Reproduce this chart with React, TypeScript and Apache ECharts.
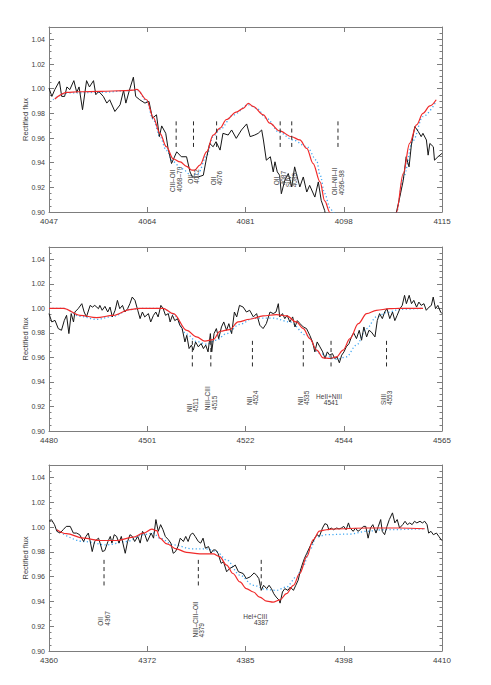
import React, { useEffect, useRef } from "react";
import * as echarts from "echarts";

// ---------- Panel 1 (4047-4115 Å) ----------
const P1_TICKS = ["4047", "4064", "4081", "4098", "4115"];
const P1_OBS_W = [4047.0,4047.5,4048.0,4048.8,4049.2,4049.7,4050.1,4050.6,4051.3,4051.8,4052.2,4052.8,4053.5,4054.0,4054.7,4055.1,4055.6,4056.4,4057.0,4057.5,4058.4,4059.3,4059.9,4060.3,4060.9,4061.6,4062.0,4062.7,4063.6,4064.3,4064.9,4065.6,4066.1,4066.5,4067.2,4067.6,4068.2,4069.1,4069.9,4070.8,4071.4,4071.8,4072.8,4073.7,4074.3,4074.8,4075.4,4075.9,4076.6,4077.1,4078.0,4078.6,4079.4,4080.3,4081.2,4081.8,4082.6,4083.2,4083.8,4084.1,4084.6,4085.3,4085.8,4086.1,4086.5,4086.9,4087.2,4087.8,4088.4,4089.0,4089.5,4089.8,4090.4,4091.0,4091.6,4092.1,4093.0,4093.6,4094.1,4094.7,4095.3,4097.0,4100.0,4103.0,4105.5,4106.5,4107.1,4107.7,4108.3,4108.8,4109.3,4109.7,4110.3,4110.9,4111.4,4111.7,4112.3,4112.6,4112.9,4113.5,4113.7,4114.3,4115.0];
const P1_OBS_F = [1.0005,0.9937,0.9992,1.0060,0.9937,0.9937,1.0014,0.9992,1.0065,0.9970,1.0014,0.9829,1.0065,1.0014,1.0065,0.9951,0.9978,0.9937,0.9883,0.9910,0.9815,0.9869,0.9986,0.9883,0.9986,1.0093,0.9937,0.9910,0.9883,0.9897,0.9761,0.9788,0.9611,0.9698,0.9638,0.9516,0.9393,0.9488,0.9448,0.9448,0.9325,0.9284,0.9284,0.9298,0.9448,0.9556,0.9529,0.9570,0.9502,0.9638,0.9624,0.9665,0.9597,0.9665,0.9714,0.9611,0.9624,0.9638,0.9665,0.9584,0.9420,0.9448,0.9325,0.9407,0.9325,0.9298,0.9148,0.9257,0.9312,0.9203,0.9366,0.9312,0.9203,0.9284,0.9162,0.9216,0.9121,0.9244,0.9094,0.9012,0.885,0.85,0.78,0.76,0.84,0.88,0.8996,0.9121,0.9257,0.9448,0.9366,0.9543,0.9693,0.9652,0.9611,0.9638,0.9584,0.9461,0.9556,0.9529,0.9420,0.9448,0.9475];
const P1_RED_W = [4048.0,4050.1,4052.0,4056.0,4060.0,4061.6,4062.2,4063.9,4065.0,4066.2,4067.3,4068.5,4069.7,4070.8,4071.7,4072.2,4073.1,4074.3,4075.4,4076.6,4077.7,4079.4,4080.6,4081.5,4082.3,4084.1,4085.2,4086.9,4089.0,4090.4,4091.6,4092.7,4093.9,4094.7,4095.6,4097.0,4099.0,4101.7,4104.0,4106.0,4107.1,4108.3,4109.4,4110.6,4111.7,4112.9,4114.0];
const P1_RED_F = [0.9916,0.997,0.9975,0.9978,0.9984,0.9988,0.9995,0.991,0.977,0.9638,0.953,0.943,0.9407,0.937,0.934,0.934,0.938,0.949,0.9624,0.968,0.975,0.981,0.984,0.988,0.9856,0.9788,0.972,0.9657,0.961,0.9584,0.9516,0.9393,0.9244,0.909,0.8996,0.86,0.80,0.76,0.80,0.865,0.8996,0.9312,0.9556,0.9706,0.980,0.986,0.991];
const P1_BLU_W = [4047.7,4050.1,4055.8,4061.6,4062.4,4063.9,4065.0,4066.2,4067.3,4068.5,4069.9,4071.7,4072.8,4074.3,4075.4,4076.6,4078.9,4081.5,4082.9,4084.6,4086.9,4089.2,4091.6,4093.3,4093.9,4094.7,4095.6,4096.2,4098.0,4101.7,4105.0,4107.1,4108.3,4110.0,4111.7,4114.0];
const P1_BLU_F = [0.991,0.9965,0.997,0.9986,0.9984,0.9897,0.9752,0.9611,0.950,0.9407,0.9352,0.9298,0.9312,0.9461,0.9611,0.967,0.9788,0.9869,0.9842,0.976,0.9644,0.9584,0.953,0.942,0.930,0.915,0.9035,0.8996,0.85,0.76,0.83,0.8996,0.928,0.958,0.9774,0.9897];
const P1_MARK_W = [4069, 4072, 4076, 4087, 4089, 4097];
const P1_MARK_L = ["CIII–OII\n4068–70", "OII\n4072", "OII\n4076", "OII\n4087", "SiIV\n4089", "OII–NII–II\n4096–98"];
const P1_MARK_Y = [0.9162, 0.923, 0.9216, 0.9216, 0.920, 0.9135];
const P1_MARK_H = [false, false, false, false, false, false];

// ---------- Panel 2 (4480-4565 Å) ----------
const P2_TICKS = ["4480", "4501", "4522", "4544", "4565"];
const P2_OBS_W = [4480.0,4480.6,4481.3,4482.0,4482.7,4483.3,4483.8,4484.3,4484.8,4485.3,4485.6,4486.3,4487.1,4487.6,4488.1,4488.9,4489.4,4489.9,4490.7,4491.0,4491.5,4492.1,4492.7,4493.2,4493.7,4494.3,4494.8,4495.3,4495.9,4496.4,4497.0,4497.5,4498.0,4498.6,4499.2,4499.7,4500.2,4500.7,4501.5,4502.0,4502.6,4503.1,4503.6,4504.2,4504.7,4505.2,4505.8,4506.2,4506.7,4507.2,4507.8,4508.3,4508.8,4509.4,4509.8,4510.3,4510.8,4511.2,4511.7,4512.3,4512.9,4513.4,4513.9,4514.4,4514.9,4515.2,4515.7,4516.2,4516.7,4517.3,4517.8,4518.4,4518.9,4519.5,4520.1,4520.6,4521.2,4522.0,4522.7,4523.4,4524.2,4524.9,4525.6,4526.3,4527.0,4527.8,4528.5,4529.1,4529.6,4529.9,4530.5,4531.0,4531.5,4532.1,4532.7,4533.2,4533.7,4534.3,4535.0,4535.7,4536.4,4537.0,4537.5,4538.0,4538.6,4539.2,4539.7,4540.2,4540.7,4541.3,4541.8,4542.3,4542.8,4543.3,4543.8,4544.3,4544.9,4545.4,4545.9,4546.5,4547.1,4547.6,4548.1,4548.7,4549.2,4549.7,4550.5,4551.0,4551.5,4552.1,4552.6,4553.1,4553.7,4554.3,4554.8,4555.3,4555.9,4556.4,4556.9,4557.3,4557.9,4558.4,4558.9,4559.5,4560.0,4560.5,4561.1,4561.6,4562.2,4562.7,4563.1,4563.6,4564.1,4564.7,4565.0];
const P2_OBS_F = [0.9957,0.9889,0.9902,0.9835,0.9821,0.9900,0.9943,0.9794,0.9957,0.9889,0.9970,0.9997,1.0038,0.9970,0.9930,1.0024,1.0010,1.0024,0.9997,1.0024,0.9984,1.0016,0.9970,1.0010,0.9930,0.9984,1.0065,0.9997,1.0024,0.9970,0.9997,1.0038,1.0092,1.0065,0.9984,0.9916,0.9970,0.9930,0.9957,0.9889,0.9943,0.9970,0.9930,1.0024,0.9997,0.9943,0.9957,0.9889,0.9943,0.9900,0.9916,0.9862,0.9835,0.9726,0.9780,0.9672,0.9700,0.9659,0.9726,0.9686,0.9713,0.9672,0.9700,0.9645,0.9794,0.9645,0.9794,0.9835,0.9753,0.9848,0.9889,0.9821,0.9875,0.9794,0.9970,0.9930,1.0024,1.0010,0.9970,0.9984,0.9930,0.9957,0.9862,0.9835,0.9875,0.9970,0.9957,0.9970,1.0038,0.9930,0.9957,0.9916,0.9943,0.9889,0.9930,0.9848,0.9900,0.9875,0.9848,0.9835,0.9780,0.9726,0.9645,0.9726,0.9686,0.9645,0.9591,0.9645,0.9618,0.9631,0.9591,0.9604,0.9556,0.9618,0.9645,0.9686,0.9713,0.9767,0.9800,0.9753,0.9821,0.9740,0.9848,0.9767,0.9821,0.9808,0.9767,0.9900,0.9957,0.9916,0.9970,0.9997,0.9916,0.9970,0.9900,0.9943,0.9997,1.0024,1.0106,1.0038,1.0106,1.0038,1.0065,1.0010,1.0051,1.0024,1.0038,0.9984,1.0010,1.0024,1.0092,0.9997,1.0024,0.9970,0.9957];
const P2_RED_W = [4480.0,4483.1,4486.7,4490.3,4493.9,4497.5,4499.7,4504.7,4506.9,4509.8,4511.9,4513.7,4515.5,4517.0,4519.1,4520.9,4523.4,4526.3,4529.2,4531.4,4533.5,4535.0,4536.4,4537.9,4539.3,4540.7,4542.2,4543.6,4545.1,4546.9,4548.7,4550.8,4553.7,4555.9,4560.9];
const P2_RED_F = [1.0,1.0,0.9943,0.9924,0.9943,0.999,1.0,1.0,0.9957,0.982,0.9767,0.9732,0.9745,0.9813,0.9827,0.9889,0.9911,0.9938,0.9949,0.9938,0.9889,0.9835,0.9753,0.9659,0.9596,0.9591,0.9604,0.9659,0.9753,0.9875,0.9957,0.9984,0.9997,1.0,1.0];
const P2_BLU_W = [4480.0,4483.1,4486.7,4490.3,4493.9,4497.5,4499.7,4504.7,4506.9,4509.8,4511.9,4514.1,4516.2,4518.4,4521.3,4524.2,4528.5,4532.1,4535.7,4538.6,4542.2,4544.3,4546.5,4548.7,4550.8,4553.0,4555.9,4560.9];
const P2_BLU_F = [1.0,1.0,0.9935,0.991,0.9935,0.999,1.0,1.0,0.995,0.979,0.973,0.9707,0.974,0.9794,0.987,0.992,0.992,0.9889,0.978,0.9631,0.9585,0.9604,0.97,0.9835,0.993,0.9965,0.9992,1.0];
const P2_MARK_W = [4511, 4515, 4524, 4535, 4541, 4553];
const P2_MARK_L = ["NII\n4511", "NIII–CIII\n4515", "NII\n4524", "NII\n4535", "HeII+NIII\n4541", "SiIII\n4553"];
const P2_MARK_Y = [0.9154, 0.917, 0.9211, 0.9211, 0.9255, 0.9211];
const P2_MARK_H = [false, false, false, false, true, false];

// ---------- Panel 3 (4360-4410 Å) ----------
const P3_TICKS = ["4360", "4372", "4385", "4398", "4410"];
const P3_OBS_W = [4360.0,4360.3,4360.7,4361.0,4361.4,4361.8,4362.2,4362.7,4363.1,4363.5,4363.9,4364.4,4364.7,4365.0,4365.2,4365.5,4365.8,4366.3,4366.5,4366.8,4367.1,4367.5,4367.8,4368.0,4368.3,4368.6,4368.9,4369.2,4369.7,4370.0,4370.3,4370.6,4370.9,4371.3,4371.6,4371.9,4372.2,4372.5,4373.0,4373.3,4373.6,4373.9,4374.2,4374.5,4374.8,4375.2,4375.5,4375.8,4376.1,4376.4,4376.7,4377.1,4377.4,4377.7,4378.0,4378.3,4378.6,4379.0,4379.3,4379.6,4379.9,4380.3,4380.6,4380.9,4381.2,4381.5,4381.9,4382.2,4382.6,4383.0,4383.4,4383.7,4384.1,4384.7,4385.1,4385.6,4386.1,4386.4,4386.7,4387.0,4387.3,4387.7,4388.0,4388.3,4388.6,4388.9,4389.3,4389.4,4389.7,4390.0,4390.4,4390.7,4391.1,4391.4,4391.7,4392.0,4392.2,4392.5,4392.8,4393.0,4393.3,4393.5,4393.8,4394.1,4394.4,4394.8,4395.1,4395.4,4395.6,4395.9,4396.2,4396.6,4396.9,4397.2,4397.5,4397.8,4398.1,4398.3,4398.7,4399.0,4399.3,4399.6,4400.0,4400.3,4400.6,4400.9,4401.2,4401.6,4401.9,4402.2,4402.4,4402.7,4403.0,4403.3,4403.7,4404.0,4404.3,4404.6,4405.0,4405.3,4405.6,4405.9,4406.2,4406.5,4406.8,4407.2,4407.5,4407.8,4408.1,4408.3,4408.6,4408.9,4409.3,4409.6,4409.9,4410.0];
const P3_OBS_F = [1.0046,1.0060,1.0019,0.9965,0.9951,0.9978,1.0005,1.0005,0.9951,0.9951,0.9938,0.9883,0.9924,0.9951,0.9897,0.9802,0.9883,0.9910,0.9870,0.9802,0.9810,0.9883,0.9924,0.9870,0.9938,0.9924,0.9870,0.9924,0.9788,0.9883,0.9938,0.9924,0.9883,0.9924,0.9870,0.9965,0.9938,0.9883,0.9951,0.9910,1.0060,0.9965,1.0019,0.9978,0.9924,0.9897,0.9870,0.9788,0.9802,0.9842,0.9910,0.9883,0.9924,0.9883,0.9938,0.9951,0.9924,0.9883,0.9870,0.9910,0.9829,0.9842,0.9788,0.9815,0.9815,0.9788,0.9707,0.9720,0.9639,0.9666,0.9679,0.9693,0.9639,0.9625,0.9584,0.9598,0.9630,0.9611,0.9584,0.9489,0.9530,0.9503,0.9530,0.9503,0.9462,0.9435,0.9408,0.9386,0.9476,0.9503,0.9489,0.9516,0.9489,0.9530,0.9571,0.9652,0.9693,0.9747,0.9788,0.9815,0.9856,0.9870,0.9910,0.9938,0.9924,0.9992,1.0027,1.0019,0.9978,0.9992,0.9978,0.9992,0.9984,0.9992,1.0005,0.9978,1.0033,0.9992,0.9965,0.9992,0.9965,0.9978,1.0005,1.0005,0.9910,0.9992,1.0019,0.9951,1.0005,1.0060,0.9965,0.9938,1.0005,1.0060,1.0114,1.0033,1.0060,0.9992,1.0019,1.0046,1.0019,1.0033,1.0019,1.0046,1.0033,1.0046,1.0033,1.0046,1.0019,0.9951,0.9965,0.9938,0.9951,0.9924,0.9897,0.9890];
const P3_RED_W = [4361.0,4362.2,4364.4,4366.5,4368.6,4370.7,4372.0,4373.1,4373.7,4374.1,4375.0,4376.2,4377.5,4379.2,4380.9,4381.7,4382.6,4383.4,4384.3,4385.1,4386.0,4386.8,4387.7,4388.5,4389.4,4390.2,4391.1,4391.9,4392.8,4393.6,4394.4,4395.3,4396.1,4400.4,4404.6,4407.8];
const P3_RED_F = [0.9978,0.9946,0.991,0.9891,0.9891,0.9918,0.995,0.9983,0.997,0.991,0.9864,0.9823,0.9796,0.9783,0.9783,0.9761,0.9693,0.9625,0.9557,0.9503,0.9476,0.9435,0.9402,0.9394,0.9413,0.9462,0.953,0.9625,0.9761,0.9897,0.9967,0.9978,0.9984,0.9992,0.9992,0.9986];
const P3_BLU_W = [4361.0,4364.4,4367.3,4369.9,4372.0,4373.3,4374.1,4375.8,4378.3,4380.0,4381.3,4382.6,4384.3,4386.0,4387.7,4388.9,4390.2,4391.5,4392.3,4393.2,4394.0,4395.3,4398.3,4400.4,4402.5,4407.8];
const P3_BLU_F = [0.9973,0.9883,0.9856,0.9883,0.9938,0.995,0.991,0.9856,0.9823,0.9823,0.9802,0.9734,0.9611,0.953,0.9495,0.9489,0.9516,0.9598,0.968,0.9815,0.9918,0.9938,0.9943,0.9965,0.9978,0.9985];
const P3_MARK_W = [4367, 4379, 4387];
const P3_MARK_L = ["OII\n4367", "NIII–CIII–OII\n4379", "HeI+CIII\n4387"];
const P3_MARK_Y = [0.9204, 0.9109, 0.9255];
const P3_MARK_H = [false, false, true];

// ---------- shared axis values ----------
const Y_TICKS = ["0.90", "0.92", "0.94", "0.96", "0.98", "1.00", "1.02", "1.04"];
const Y_MIN = 0.9;
const Y_MAX = 1.05;
const Y_STEP = 0.02;
const DASH_TOP = 0.9735;
const DASH_BOTTOM = 0.952;
const Y_NAME = "Rectified flux";

// ---------- styles / layout ----------
const FONT = "'Liberation Sans', Arial, Helvetica, sans-serif";
const AXIS_COLOR = "#7d7d7d";
const TEXT_COLOR = "#3c3c3c";
const OBS_COLOR = "#161616";
const RED_COLOR = "#f02a2a";
const BLUE_COLOR = "#3ea6f2";
const LAYOUT = [
  { top: 27, height: 185 },
  { top: 247, height: 184 },
  { top: 465, height: 186 },
];

const zip = (a: number[], b: number[]) => a.map((v, i) => [v, b[i]]);

const PANELS = [
  { xMin: 4047, xMax: 4115, ticks: P1_TICKS, obs: zip(P1_OBS_W, P1_OBS_F), red: zip(P1_RED_W, P1_RED_F), blue: zip(P1_BLU_W, P1_BLU_F), markW: P1_MARK_W, markL: P1_MARK_L, markY: P1_MARK_Y, markH: P1_MARK_H, hPad: 4 },
  { xMin: 4480, xMax: 4565, ticks: P2_TICKS, obs: zip(P2_OBS_W, P2_OBS_F), red: zip(P2_RED_W, P2_RED_F), blue: zip(P2_BLU_W, P2_BLU_F), markW: P2_MARK_W, markL: P2_MARK_L, markY: P2_MARK_Y, markH: P2_MARK_H, hPad: 4 },
  { xMin: 4360, xMax: 4410, ticks: P3_TICKS, obs: zip(P3_OBS_W, P3_OBS_F), red: zip(P3_RED_W, P3_RED_F), blue: zip(P3_BLU_W, P3_BLU_F), markW: P3_MARK_W, markL: P3_MARK_L, markY: P3_MARK_Y, markH: P3_MARK_H, hPad: 12 },
];

function buildOption() {
  const grid: any[] = [];
  const xAxis: any[] = [];
  const yAxis: any[] = [];
  const series: any[] = [];
  const line = { show: true, onZero: false, lineStyle: { color: AXIS_COLOR, width: 1 } };
  const tickStyle = { color: AXIS_COLOR, width: 1 };

  PANELS.forEach((p, i) => {
    grid.push({ left: 49, right: 49, top: LAYOUT[i].top, height: LAYOUT[i].height, containLabel: false });
    const interval = (p.xMax - p.xMin) / 4;
    const xBase = {
      type: "value", gridIndex: i, min: p.xMin, max: p.xMax, interval,
      axisLine: line, splitLine: { show: false },
      axisTick: { show: true, inside: true, length: 5, lineStyle: tickStyle },
    };
    xAxis.push({
      ...xBase, position: "bottom",
      axisLabel: {
        show: true, margin: 5, fontSize: 8, color: TEXT_COLOR, fontFamily: FONT,
        formatter: (v: number) => p.ticks[Math.round((v - p.xMin) / interval)] ?? "",
      },
    });
    xAxis.push({ ...xBase, position: "top", axisLabel: { show: false } });
    const yBase = {
      type: "value", gridIndex: i, min: Y_MIN, max: Y_MAX, interval: Y_STEP,
      axisLine: line, splitLine: { show: false }, minorSplitLine: { show: false },
      axisTick: { show: true, inside: true, length: 5, lineStyle: tickStyle },
      minorTick: { show: true, splitNumber: 4, length: 2.5, lineStyle: tickStyle },
    };
    yAxis.push({
      ...yBase, position: "left",
      name: Y_NAME, nameLocation: "middle", nameRotate: 90, nameGap: 20, nameMoveOverlap: false,
      nameTextStyle: { fontSize: 7.5, color: TEXT_COLOR, fontFamily: FONT },
      axisLabel: {
        show: true, margin: 4, fontSize: 7, color: TEXT_COLOR, fontFamily: FONT, showMaxLabel: false,
        formatter: (v: number) => Y_TICKS[Math.round((v - Y_MIN) / Y_STEP)] ?? "",
      },
    });
    yAxis.push({ ...yBase, position: "right", axisLabel: { show: false } });

    const xi = 2 * i;
    const yi = 2 * i;
    series.push({
      type: "line", xAxisIndex: xi, yAxisIndex: yi, data: p.blue, showSymbol: false, symbol: "none",
      smooth: 0.35, smoothMonotone: "x", clip: true, z: 2,
      lineStyle: { color: BLUE_COLOR, width: 1.3, type: [1.2, 2.4] },
    });
    series.push({
      type: "line", xAxisIndex: xi, yAxisIndex: yi, data: p.obs, showSymbol: false, symbol: "none",
      clip: true, z: 3, lineStyle: { color: OBS_COLOR, width: 1 },
    });
    series.push({
      type: "line", xAxisIndex: xi, yAxisIndex: yi, data: p.red, showSymbol: false, symbol: "none",
      smooth: 0.35, smoothMonotone: "x", clip: true, z: 4,
      lineStyle: { color: RED_COLOR, width: 1.2 },
    });
    series.push({
      type: "custom", xAxisIndex: xi, yAxisIndex: yi, z: 5, clip: false,
      data: p.markW.map((w, j) => [w, p.markY[j]]),
      encode: { x: 0, y: 1 },
      renderItem: (params: any, api: any) => {
        const j = params.dataIndex;
        const w = api.value(0);
        const ly = api.value(1);
        const a = api.coord([w, DASH_TOP]);
        const b = api.coord([w, DASH_BOTTOM]);
        const c = api.coord([w, ly]);
        const txt = p.markL[j];
        const children: any[] = [
          { type: "line", shape: { x1: a[0], y1: a[1], x2: b[0], y2: b[1] }, style: { stroke: "#2a2a2a", lineWidth: 1, lineDash: [4, 3.2] } },
        ];
        if (p.markH[j]) {
          const parts = txt.split("\n");
          const base = { fontSize: 6.5, lineHeight: 6.5, fill: TEXT_COLOR, fontFamily: FONT };
          children.push({
            type: "text", x: c[0], y: c[1],
            style: {
              text: `{a|${parts[0]}}\n{b|${parts[1]}}`,
              rich: { a: { ...base, padding: [0, p.hPad, 0, 0] }, b: { ...base } },
              align: "center", verticalAlign: "middle", ...base,
            },
          });
        } else {
          children.push({
            type: "text", x: c[0], y: c[1], rotation: Math.PI / 2,
            style: { text: txt, fontSize: 6.5, lineHeight: 6.5, fill: TEXT_COLOR, fontFamily: FONT, align: "left", verticalAlign: "middle" },
          });
        }
        return { type: "group", children };
      },
    });
  });

  return { animation: false, backgroundColor: "#ffffff", grid, xAxis, yAxis, series };
}

export default function App() {
  const ref = useRef<HTMLDivElement>(null);
  useEffect(() => {
    if (!ref.current) return;
    const chart = echarts.init(ref.current, null, { renderer: "svg" });
    chart.setOption(buildOption() as any);
    return () => chart.dispose();
  }, []);
  return <div ref={ref} style={{ position: "fixed", left: 0, top: 0, width: 491, height: 685, background: "#fff" }} />;
}
